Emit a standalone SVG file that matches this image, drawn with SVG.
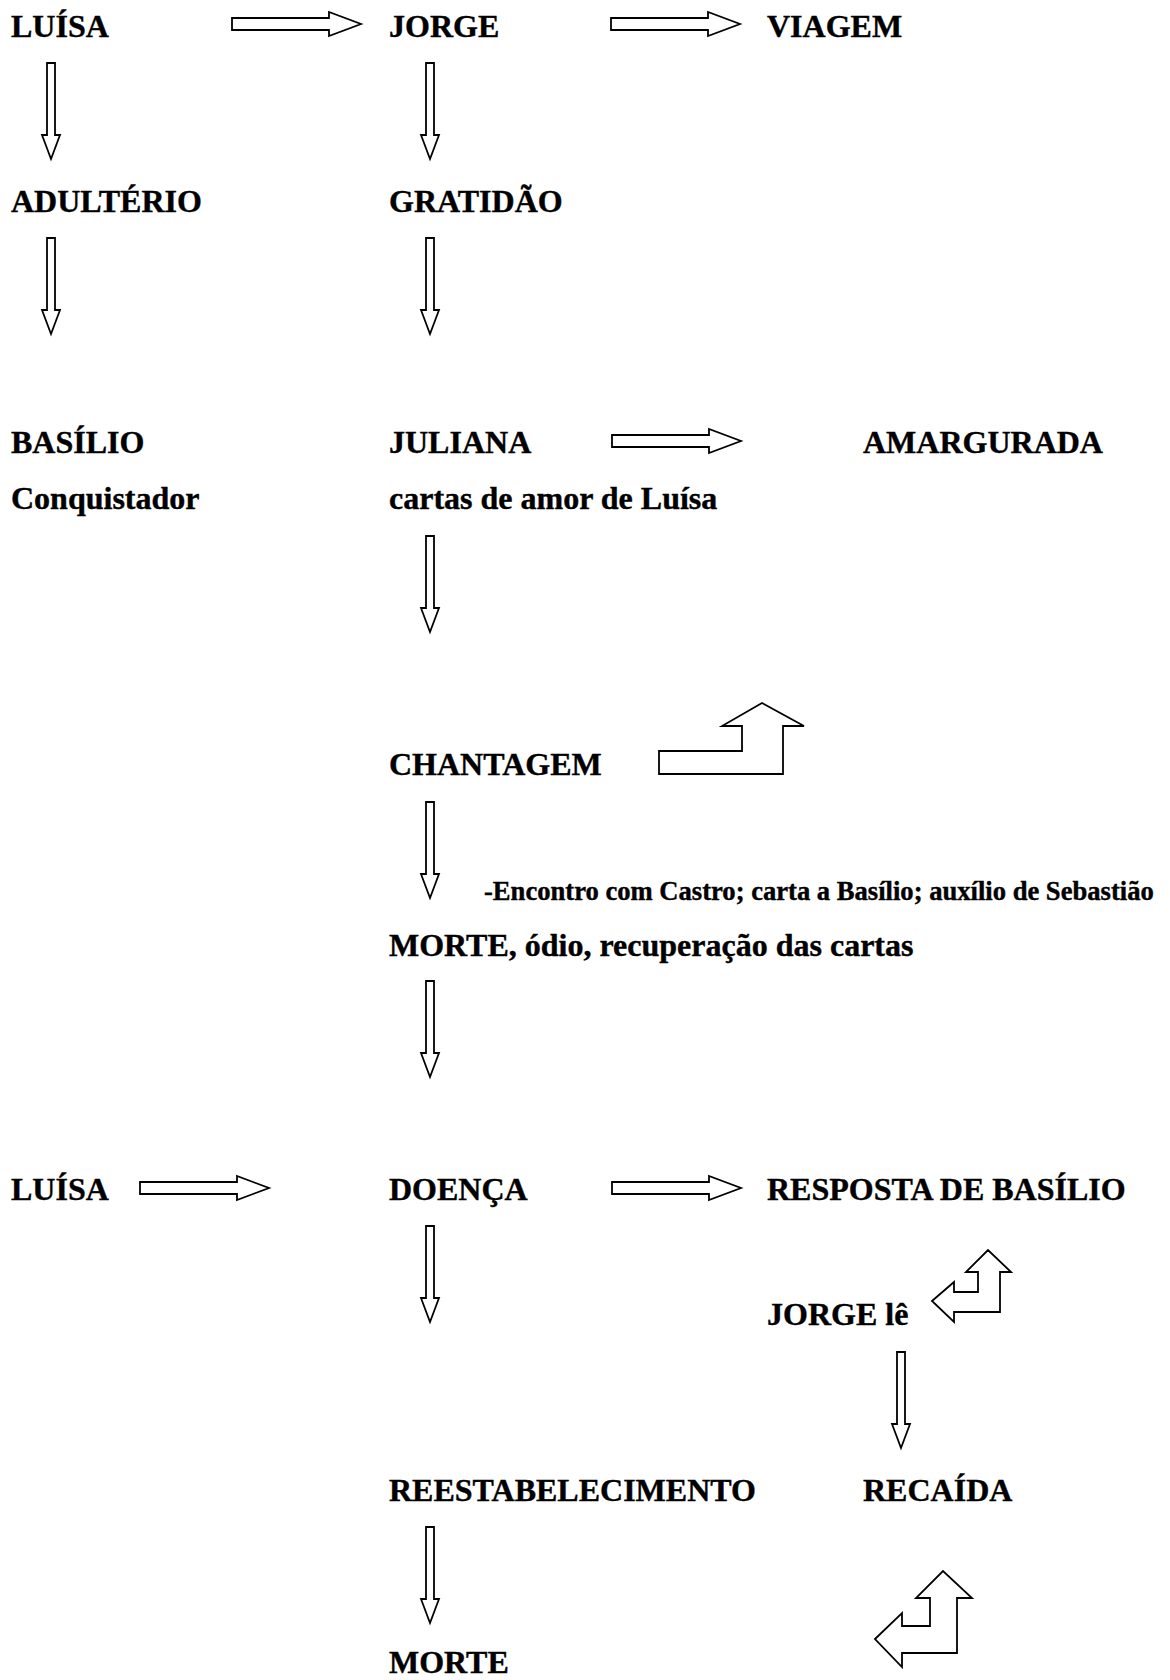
<svg xmlns="http://www.w3.org/2000/svg" xmlns:xlink="http://www.w3.org/1999/xlink" width="1170" height="1680" viewBox="0 0 1170 1680">
<style>
.t{font-family:"Liberation Serif","Times New Roman",serif;font-weight:bold;font-size:32px;fill:#000;stroke:#000;stroke-width:0.4}
.s{font-size:26.6px}
.a{fill:#fff;stroke:#000;stroke-width:1.8;stroke-linejoin:miter}
</style>
<defs>
<path id="va" class="a" d="M-4,0 H4 V72 H9 L0,96 L-9,72 H-4 Z"/>
<path id="ha" class="a" d="M0,-6 H97 V-12 L129,0 L97,12 V6 H0 Z"/>
</defs>
<rect width="1170" height="1680" fill="#fff"/>
<g id="connectors">
<use xlink:href="#ha" x="232" y="24"/>
<use xlink:href="#ha" x="611" y="24"/>
<use xlink:href="#va" x="51" y="63"/>
<use xlink:href="#va" x="430" y="63"/>
<use xlink:href="#va" x="51" y="238"/>
<use xlink:href="#va" x="430" y="238"/>
<use xlink:href="#ha" x="612" y="441"/>
<use xlink:href="#va" x="430" y="536"/>
<path class="a" d="M659,774 V751 H742 V726 H722 L762,703 L804,726 H783 V774 Z"/>
<use xlink:href="#va" x="430" y="802"/>
<use xlink:href="#va" x="430" y="981"/>
<use xlink:href="#ha" x="140" y="1188"/>
<use xlink:href="#ha" x="612" y="1188"/>
<use xlink:href="#va" x="430" y="1226"/>
<path class="a" d="M932,1301 L954,1282 V1292 H978 V1272 H966 L988,1250 L1011,1272 H1000 V1312 H954 V1322 Z"/>
<use xlink:href="#va" x="901" y="1352"/>
<use xlink:href="#va" x="430" y="1527"/>
<path class="a" d="M875,1639 L902,1613 V1626 H930 V1598 H916 L943,1571 L972,1598 H957 V1653 H902 V1667 Z"/>
</g>
<g id="n-luisa"><text class="t" x="11" y="37">LUÍSA</text></g>
<g id="n-jorge"><text class="t" x="389" y="37">JORGE</text></g>
<g id="n-viagem"><text class="t" x="767" y="37">VIAGEM</text></g>
<g id="n-adulterio"><text class="t" x="11" y="212">ADULTÉRIO</text></g>
<g id="n-gratidao"><text class="t" x="389" y="212">GRATIDÃO</text></g>
<g id="n-basilio"><text class="t" x="11" y="453">BASÍLIO</text><text class="t" x="11" y="509">Conquistador</text></g>
<g id="n-juliana"><text class="t" x="389" y="453">JULIANA</text><text class="t" x="389" y="509">cartas de amor de Luísa</text></g>
<g id="n-amargurada"><text class="t" x="863" y="453">AMARGURADA</text></g>
<g id="n-chantagem"><text class="t" x="389" y="775">CHANTAGEM</text></g>
<g id="n-encontro"><text class="t s" x="484" y="900">-Encontro com Castro; carta a Basílio; auxílio de Sebastião</text></g>
<g id="n-morte1"><text class="t" x="389" y="956">MORTE, ódio, recuperação das cartas</text></g>
<g id="n-luisa2"><text class="t" x="11" y="1200">LUÍSA</text></g>
<g id="n-doenca"><text class="t" x="389" y="1200">DOENÇA</text></g>
<g id="n-resposta"><text class="t" x="767" y="1200">RESPOSTA DE BASÍLIO</text></g>
<g id="n-jorgele"><text class="t" x="767" y="1325">JORGE lê</text></g>
<g id="n-reestabelecimento"><text class="t" x="389" y="1501">REESTABELECIMENTO</text></g>
<g id="n-recaida"><text class="t" x="863" y="1501">RECAÍDA</text></g>
<g id="n-morte2"><text class="t" x="389" y="1673">MORTE</text></g>
</svg>
